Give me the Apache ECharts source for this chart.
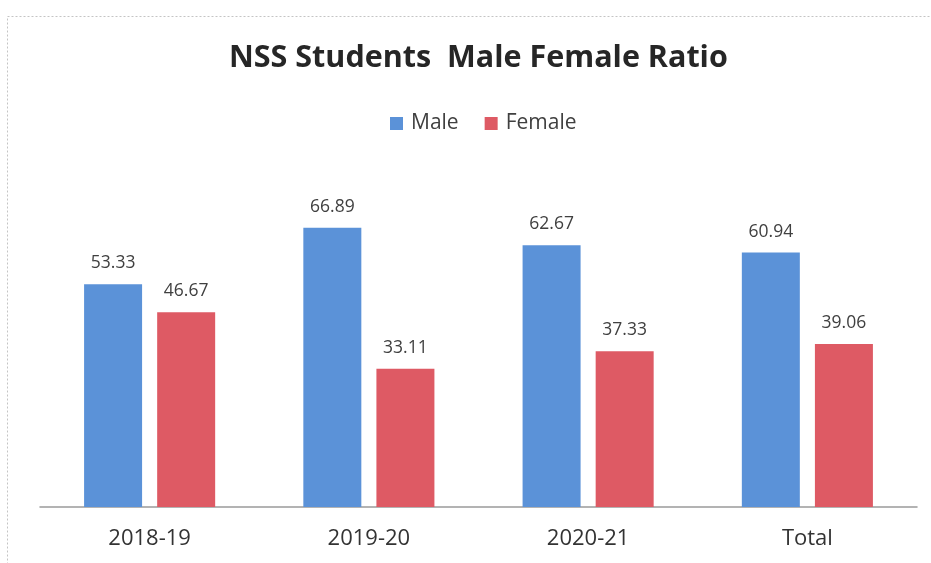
<!DOCTYPE html>
<html><head><meta charset="utf-8">
<script src="https://cdn.jsdelivr.net/npm/echarts@6/dist/echarts.min.js"></script>
<style>html,body{margin:0;padding:0;background:#fff}#c{width:931px;height:563px}</style>
</head><body><div id="c"></div>
<script>
const categories = ['2018-19', '2019-20', '2020-21', 'Total'];
const male = [53.33, 66.89, 62.67, 60.94];
const female = [46.67, 33.11, 37.33, 39.06];
const seriesNames = ['Male', 'Female'];

const chart = echarts.init(document.getElementById('c'));
const FONT = 'Open Sans';
const valueLabel = {
  show: true, position: 'top', distance: 12,
  fontFamily: FONT, fontSize: 17.5, color: '#404040',
  formatter: p => p.value.toFixed(2)
};
chart.setOption({
  animation: false,
  backgroundColor: '#fff',
  graphic: [{
    type: 'rect', left: 5, top: 14, shape: {width: 940, height: 600},
    style: {fill: 'none', stroke: '#c4c4c4', lineWidth: 1, lineDash: [2, 2]}, silent: true
  }],
  title: {
    text: 'NSS Students  Male Female Ratio', left: 224, top: 38,
    textStyle: {fontFamily: FONT, fontWeight: 'bold', fontSize: 30.5, color: '#262626'}
  },
  legend: {
    data: seriesNames, top: 108, left: 385, itemWidth: 13, itemHeight: 13, itemGap: 26,
    icon: 'rect',
    textStyle: {fontFamily: FONT, fontSize: 21, color: '#404040', padding: [0, 0, 0, 3]}
  },
  grid: {left: 40, right: 14, top: 173, bottom: 56, containLabel: false},
  xAxis: {
    type: 'category', data: categories,
    axisLine: {lineStyle: {color: '#9a9a9a', width: 1.5}},
    axisTick: {show: false},
    axisLabel: {fontFamily: FONT, fontSize: 22, color: '#333', margin: 21}
  },
  yAxis: {
    type: 'value', min: 0, max: 80, interval: 10, show: false,
    splitLine: {show: false}
  },
  series: [
    {name: seriesNames[0], type: 'bar', data: male, barWidth: 58, barGap: '26%',
     itemStyle: {color: '#5b92d8'}, label: valueLabel},
    {name: seriesNames[1], type: 'bar', data: female, barWidth: 58,
     itemStyle: {color: '#de5a64'}, label: valueLabel}
  ]
});
</script></body></html>
